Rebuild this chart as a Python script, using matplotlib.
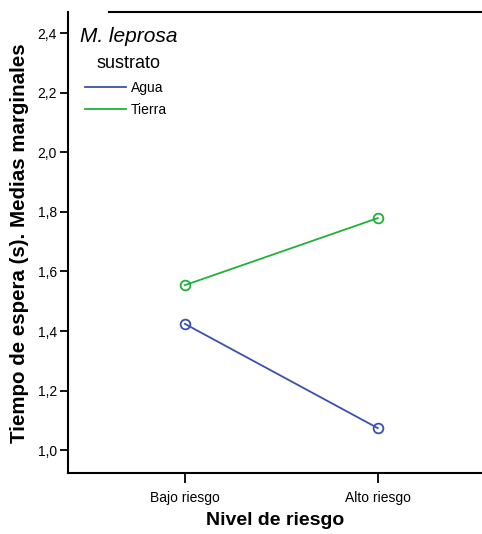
import matplotlib.pyplot as plt
from matplotlib.lines import Line2D

niveles = ['Bajo riesgo', 'Alto riesgo']
agua = [1.424, 1.074]
tierra = [1.554, 1.779]
yticks = [1.0, 1.2, 1.4, 1.6, 1.8, 2.0, 2.2, 2.4]

plt.rcParams['font.family'] = ['Liberation Sans', 'DejaVu Sans']

fig = plt.figure(figsize=(4.82, 5.34), dpi=100)
ax = fig.add_axes([0.141, 0.114, 0.859, 0.863])

azul = '#3a50b0'
verde = '#22b03a'
x = range(len(niveles))
ax.plot(x, agua, color=azul, lw=1.3, marker='o', ms=7, mfc='none', mew=1.3)
ax.plot(x, tierra, color=verde, lw=1.3, marker='o', ms=7, mfc='none', mew=1.3)

ax.set_xlim(-0.606, 1.54)
ax.set_ylim(0.923, 2.47)
ax.set_xticks(list(x))
ax.set_xticklabels(niveles, fontsize=10)
ax.set_yticks(yticks)
ax.set_yticklabels([f'{v:.1f}'.replace('.', ',') for v in yticks], fontsize=10)

ax.spines['right'].set_visible(False)
ax.spines['top'].set_bounds(-0.394, 1.54)
for s in ('left', 'bottom', 'top'):
    ax.spines[s].set_linewidth(1.5)
ax.tick_params(axis='y', length=6, width=1.3, pad=2)
ax.tick_params(axis='x', length=7, width=1.3, pad=6)

ax.set_xlabel('Nivel de riesgo', fontsize=14, fontweight='bold', labelpad=5)
ax.set_ylabel('Tiempo de espera (s). Medias marginales', fontsize=14.8, fontweight='bold', labelpad=6)

ax.text(0.029, 0.947, 'M. leprosa', transform=ax.transAxes, fontsize=15,
        fontstyle='italic', va='center')
ax.text(0.069, 0.889, 'sustrato', transform=ax.transAxes, fontsize=13, va='center')
handles = [Line2D([], [], color=azul, lw=1.3), Line2D([], [], color=verde, lw=1.3)]
ax.legend(handles, ['Agua', 'Tierra'], loc='upper left',
          bbox_to_anchor=(0.012, 0.878), frameon=False, fontsize=10,
          handlelength=2.9, handletextpad=0.35, labelspacing=0.55)

fig.savefig('out.png', dpi=100)
